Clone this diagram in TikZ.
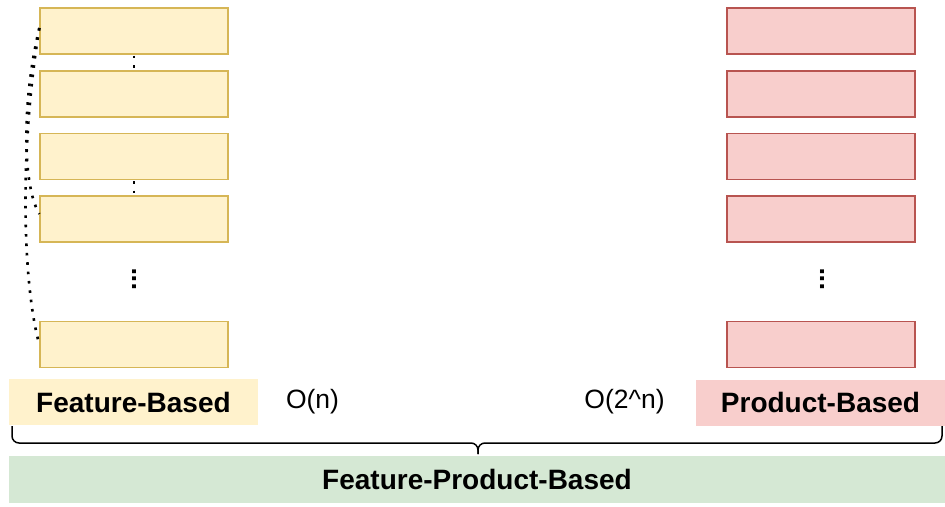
\documentclass[tikz,border=0pt]{standalone}
\usepackage{fontspec}
\setmainfont{Liberation Sans}
\begin{document}
\begin{tikzpicture}[x=1pt,y=-1pt,
  fbox/.style={draw=featstroke,fill=featfill,line width=1.3pt,minimum width=188pt,minimum height=46pt,inner sep=0pt},
  pbox/.style={draw=prodstroke,fill=prodfill,line width=1.3pt,minimum width=188pt,minimum height=46pt,inner sep=0pt},
  lbl/.style={inner sep=0pt,minimum height=46pt,font=\fontsize{28}{33}\selectfont\bfseries},
  cplx/.style={inner sep=0pt,font=\fontsize{26.5}{30}\selectfont},
  vdots/.style={inner sep=0pt,rotate=90,font=\fontsize{27}{32}\selectfont\bfseries},
  dotline/.style={line width=2.6pt,dash pattern=on 2.6pt off 6.8pt},
  brace/.style={line width=1.5pt,rounded corners=7pt}
]
\definecolor{featfill}{HTML}{FFF2CC}
\definecolor{featstroke}{HTML}{D6B656}
\definecolor{prodfill}{HTML}{F8CECC}
\definecolor{prodstroke}{HTML}{B85450}
\definecolor{greenfill}{HTML}{D5E8D4}
\useasboundingbox (0,0) rectangle (945,506);

% feature boxes
\node[fbox] (f1) at (134,31) {};
\node[fbox] (f2) at (134,94) {};
\node[fbox] (f3) at (134,156.5) {};
\node[fbox] (f4) at (134,219) {};
\node[fbox] (f5) at (134,344.5) {};
\node[vdots] (fd) at (134,279) {...};

% product boxes
\node[pbox] (p1) at (821,31) {};
\node[pbox] (p2) at (821,94) {};
\node[pbox] (p3) at (821,156.5) {};
\node[pbox] (p4) at (821,219) {};
\node[pbox] (p5) at (821,344.5) {};
\node[vdots] (pd) at (822,279) {...};

% labels
\node[lbl,fill=featfill,minimum width=249pt] (fb) at (133.5,402) {Feature-Based};
\node[lbl,fill=prodfill,minimum width=249pt] (pb) at (820.5,402.5) {Product-Based};
\node[cplx] (on) at (312.5,402) {O(n)};
\node[cplx] (o2n) at (624.5,402) {O(2\^{}n)};
\node[lbl,fill=greenfill,minimum width=936pt,minimum height=47pt] (fpb) at (477,479.5) {Feature-Product-Based};

% dotted connectors
\draw[dotline] ([yshift=-1pt]f1.south) -- ([yshift=1pt]f2.north);
\draw[dotline] ([yshift=-1pt]f3.south) -- ([yshift=1pt]f4.north);
\draw[dotline] ([yshift=3pt]f1.west) .. controls (22,100) and (22,185) .. ([yshift=5pt]f4.west);
\draw[dotline] ([yshift=3pt]f1.west) .. controls (18,160) and (24,290) .. (f5.west);

% brace
\coordinate (bl) at (12,426);
\coordinate (br) at (942,426);
\coordinate (bm) at (478,443);
\coordinate (bt) at (478,454);
\draw[brace] (bl) |- (bm) -- (bt);
\draw[brace] (br) |- (bm) -- (bt);
\end{tikzpicture}
\end{document}
